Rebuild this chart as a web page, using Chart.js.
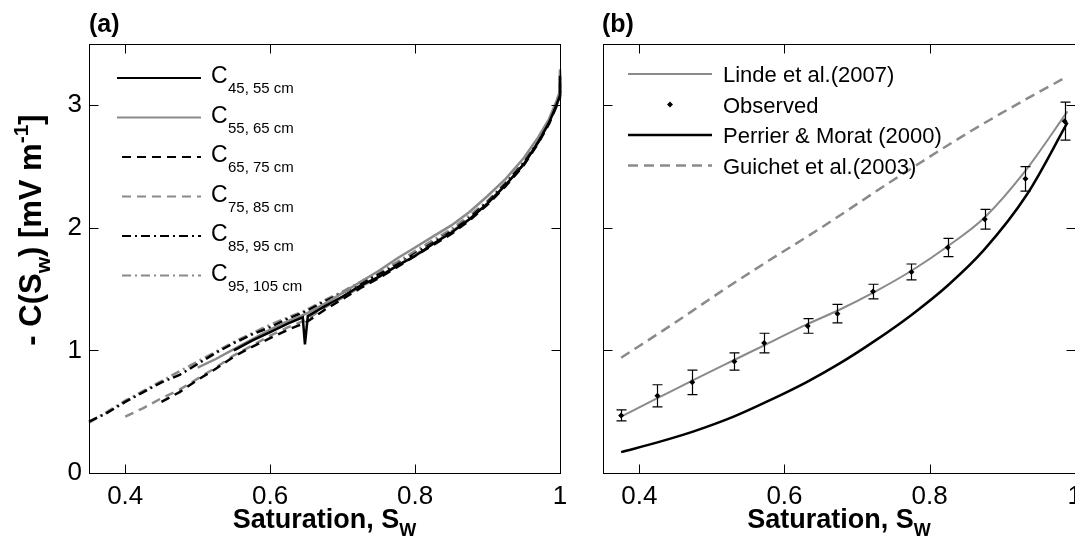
<!DOCTYPE html>
<html>
<head>
<meta charset="utf-8">
<script src="https://cdn.jsdelivr.net/npm/chart.js@4.4.1/dist/chart.umd.min.js"></script>
<style>
  html, body { margin: 0; padding: 0; background: #fff; overflow: hidden; width: 1075px; height: 553px; }
  #wrapA { position: absolute; left: 0; top: 0; }
  #wrapB { position: absolute; left: 590px; top: 0; }
</style>
</head>
<body>
<div id="wrapA"><canvas id="chartA" width="580" height="553"></canvas></div>
<div id="wrapB"><canvas id="chartB" width="500" height="553"></canvas></div>
<script>
// ---- panel (a): measured C(Sw) for each depth pair ----
const satA = [0.35, 0.375, 0.40, 0.425, 0.45, 0.475, 0.50, 0.525, 0.55, 0.575, 0.60, 0.625, 0.65, 0.675, 0.70,
  0.725, 0.75, 0.775, 0.80, 0.825, 0.85, 0.875, 0.90, 0.925, 0.95, 0.97, 0.985, 0.995, 1.0, 1.0];
const c55 = [null, null, null, null, null, null, 0.86, 0.93, 1.01, 1.09, 1.17, 1.24, 1.30, 1.38, 1.47,
  1.56, 1.65, 1.75, 1.84, 1.93, 2.02, 2.13, 2.26, 2.40, 2.57, 2.74, 2.89, 3.03, 3.12, 3.28];
const c65 = [null, null, null, null, 0.58, 0.66, 0.76, 0.85, 0.95, 1.03, 1.10, 1.17, 1.23, 1.33, 1.42,
  1.51, 1.59, 1.68, 1.77, 1.86, 1.95, 2.06, 2.19, 2.34, 2.51, 2.69, 2.85, 2.99, 3.06, 3.20];
const c75 = [null, null, 0.46, 0.53, 0.61, 0.68, 0.77, 0.86, 0.96, 1.04, 1.12, 1.19, 1.25, 1.35, 1.43,
  1.52, 1.60, 1.69, 1.78, 1.87, 1.97, 2.07, 2.20, 2.35, 2.52, 2.70, 2.86, 3.01, 3.10, 3.30];
const c85 = [0.42, 0.49, 0.58, 0.66, 0.74, 0.80, 0.89, 0.98, 1.06, 1.13, 1.19, 1.26, 1.32, 1.40, 1.47,
  1.55, 1.62, 1.70, 1.79, 1.88, 1.97, 2.08, 2.21, 2.36, 2.53, 2.70, 2.86, 3.00, 3.08, 3.22];
const c95 = [0.41, 0.50, 0.59, 0.67, 0.75, 0.83, 0.91, 0.99, 1.07, 1.14, 1.21, 1.27, 1.33, 1.41, 1.48,
  1.56, 1.64, 1.72, 1.81, 1.90, 1.99, 2.10, 2.22, 2.37, 2.54, 2.71, 2.87, 3.02, 3.12, 3.26];
// the 45-55 cm record has its own sampling (spike near Sw = 0.65)
const sat45 = [0.55, 0.575, 0.60, 0.625, 0.645, 0.648, 0.652, 0.675, 0.70, 0.725, 0.75, 0.775, 0.80, 0.825,
  0.85, 0.875, 0.90, 0.925, 0.95, 0.97, 0.985, 0.995, 1.0, 1.0];
const c45 = [1.00, 1.08, 1.15, 1.22, 1.27, 1.05, 1.28, 1.36, 1.44, 1.53, 1.60, 1.69, 1.77, 1.87,
  1.96, 2.07, 2.20, 2.35, 2.52, 2.70, 2.86, 3.00, 3.08, 3.24];
const depthLabels = ["45, 55 cm", "55, 65 cm", "65, 75 cm", "75, 85 cm", "85, 95 cm", "95, 105 cm"];

// ---- panel (b): observed vs models ----
const obsS = [0.375, 0.425, 0.473, 0.531, 0.572, 0.632, 0.673, 0.722, 0.775, 0.825, 0.876, 0.932, 0.986];
const obsC = [0.47, 0.63, 0.74, 0.91, 1.06, 1.20, 1.30, 1.48, 1.64, 1.84, 2.07, 2.40, 2.87];
const obsErr = [0.045, 0.09, 0.10, 0.07, 0.08, 0.06, 0.075, 0.06, 0.065, 0.075, 0.08, 0.10, 0.155];
const lindeS = [0.375, 0.425, 0.475, 0.53, 0.575, 0.63, 0.675, 0.725, 0.775, 0.825, 0.875, 0.93, 0.99];
const lindeC = [0.46, 0.61, 0.76, 0.92, 1.05, 1.21, 1.33, 1.48, 1.65, 1.85, 2.08, 2.45, 2.95];
const perrS = [0.375, 0.425, 0.475, 0.53, 0.575, 0.63, 0.675, 0.725, 0.775, 0.825, 0.875, 0.935, 0.99];
const perrC = [0.17, 0.25, 0.34, 0.46, 0.58, 0.74, 0.89, 1.08, 1.29, 1.53, 1.82, 2.28, 2.86];
const guiS = [0.375, 0.45, 0.515, 0.575, 0.645, 0.75, 0.857, 0.93, 0.985];
const guiC = [0.94, 1.23, 1.49, 1.72, 1.98, 2.39, 2.79, 3.04, 3.22];
const modelLabels = ["Linde et al.(2007)", "Observed", "Perrier & Morat (2000)", "Guichet et al.(2003)"];

const xTicks = [0.4, 0.6, 0.8, 1];
const yTicks = [0, 1, 2, 3];

const FONT = '"Liberation Sans", Arial, Helvetica, sans-serif';
const GRAY = "#8a8a8a";
const DASH = [9, 6];
const DASHDOT = [9, 4, 2, 4];

const pts = (xs, ys) => xs.map((x, i) => ({ x: x, y: ys[i] })).filter(p => p.y !== null);

// text with sub/superscripts: parts = [text, size, bold, dy]
function richText(ctx, parts, x, y, center) {
  let w = 0;
  parts.forEach(p => {
    ctx.font = (p[2] ? "bold " : "") + p[1] + "px " + FONT;
    w += ctx.measureText(p[0]).width;
  });
  let cx = center ? x - w / 2 : x;
  parts.forEach(p => {
    ctx.font = (p[2] ? "bold " : "") + p[1] + "px " + FONT;
    ctx.fillText(p[0], cx, y + p[3]);
    cx += ctx.measureText(p[0]).width;
  });
}

// box round the axes with inward ticks on all four sides
const frameTicks = {
  id: "frameTicks",
  afterDraw(chart) {
    const { ctx, chartArea: a, scales } = chart;
    const L = Math.round(a.left) + 0.5, R = Math.round(a.right) + 0.5;
    const T = Math.round(a.top) + 0.5, B = Math.round(a.bottom) + 0.5;
    ctx.save();
    ctx.strokeStyle = "#000";
    ctx.lineWidth = 1;
    ctx.strokeRect(L, T, R - L, B - T);
    ctx.beginPath();
    xTicks.forEach(v => {
      const px = Math.round(scales.x.getPixelForValue(v)) + 0.5;
      ctx.moveTo(px, B); ctx.lineTo(px, B - 9);
      ctx.moveTo(px, T); ctx.lineTo(px, T + 9);
    });
    yTicks.forEach(v => {
      const py = Math.round(scales.y.getPixelForValue(v)) + 0.5;
      ctx.moveTo(L, py); ctx.lineTo(L + 9, py);
      ctx.moveTo(R, py); ctx.lineTo(R - 9, py);
    });
    ctx.stroke();
    ctx.restore();
  }
};

function xTitle(chart) {
  const { ctx, chartArea: a } = chart;
  ctx.save();
  ctx.fillStyle = "#000";
  ctx.textBaseline = "alphabetic";
  richText(ctx, [["Saturation, S", 27, true, 0], ["W", 18, true, 8]], (a.left + a.right) / 2, 528, true);
  ctx.restore();
}

function axisOptions(showY) {
  return {
    x: {
      type: "linear", min: 0.35, max: 1,
      grid: { display: false, drawTicks: false },
      border: { display: false },
      afterBuildTicks: s => { s.ticks = xTicks.map(v => ({ value: v })); },
      afterFit: s => { s.height = 80; },
      ticks: { padding: 8, color: "#000", font: { family: FONT, size: 26 }, maxRotation: 0,
        callback: v => String(v) }
    },
    y: {
      type: "linear", min: 0, max: 3.5,
      grid: { display: false, drawTicks: false },
      border: { display: false },
      afterBuildTicks: s => { s.ticks = yTicks.map(v => ({ value: v })); },
      afterFit: s => { s.width = showY ? 89 : 13; },
      ticks: { display: showY, padding: 7, color: "#000", font: { family: FONT, size: 26 } }
    }
  };
}

// ---------- chart (a) ----------
const seriesA = [
  { data: pts(sat45, c45), color: "#000", dash: [] },
  { data: pts(satA, c55), color: GRAY, dash: [] },
  { data: pts(satA, c65), color: "#000", dash: DASH },
  { data: pts(satA, c75), color: GRAY, dash: DASH },
  { data: pts(satA, c85), color: "#000", dash: DASHDOT },
  { data: pts(satA, c95), color: GRAY, dash: DASHDOT }
];

const decorA = {
  id: "decorA",
  afterDraw(chart) {
    const ctx = chart.ctx;
    ctx.save();
    ctx.fillStyle = "#000";
    ctx.font = "bold 25px " + FONT;
    ctx.fillText("(a)", 89, 32);
    // legend
    seriesA.forEach((s, i) => {
      const y = 78 + i * 39.5;
      ctx.beginPath();
      ctx.strokeStyle = s.color;
      ctx.lineWidth = 2;
      ctx.setLineDash(s.dash);
      ctx.moveTo(s.dash.length ? 122 : 117, y);
      ctx.lineTo(201, y);
      ctx.stroke();
      ctx.setLineDash([]);
      ctx.fillStyle = "#000";
      ctx.font = "23px " + FONT;
      ctx.fillText("C", 211, y + 5);
      ctx.font = "15px " + FONT;
      ctx.fillText(depthLabels[i], 228, y + 15);
    });
    xTitle(chart);
    // y title, rotated
    ctx.translate(41, 230);
    ctx.rotate(-Math.PI / 2);
    richText(ctx, [["- C(S", 31, true, 0], ["w", 21, true, 9], [") [mV m", 31, true, 0],
      ["-1", 21, true, -13], ["]", 31, true, 0]], 0, 0, true);
    ctx.restore();
  }
};

new Chart(document.getElementById("chartA"), {
  type: "line",
  data: {
    datasets: seriesA.map((s, i) => ({
      label: depthLabels[i],
      data: s.data,
      borderColor: s.color,
      borderWidth: 2.5,
      borderDash: s.dash,
      pointRadius: 0,
      tension: 0,
      clip: 4
    }))
  },
  options: {
    responsive: false,
    animation: false,
    layout: { padding: { left: 0, right: 20, top: 44, bottom: 0 } },
    plugins: { legend: { display: false }, tooltip: { enabled: false } },
    scales: axisOptions(true)
  },
  plugins: [frameTicks, decorA]
});

// ---------- chart (b) ----------
const errorBars = {
  id: "errorBars",
  afterDatasetsDraw(chart) {
    const { ctx, scales: { x, y } } = chart;
    ctx.save();
    ctx.strokeStyle = "#000";
    ctx.lineWidth = 1.2;
    ctx.beginPath();
    obsS.forEach((s, i) => {
      const px = Math.round(x.getPixelForValue(s)) + 0.5;
      const y1 = y.getPixelForValue(obsC[i] + obsErr[i]);
      const y2 = y.getPixelForValue(obsC[i] - obsErr[i]);
      ctx.moveTo(px, y1); ctx.lineTo(px, y2);
      ctx.moveTo(px - 5, y1); ctx.lineTo(px + 5, y1);
      ctx.moveTo(px - 5, y2); ctx.lineTo(px + 5, y2);
    });
    ctx.stroke();
    ctx.restore();
  }
};

const legendB = [
  { color: GRAY, dash: [], width: 2, marker: false },
  { color: "#000", dash: [], width: 0, marker: true },
  { color: "#000", dash: [], width: 2.5, marker: false },
  { color: GRAY, dash: [10, 6], width: 2.5, marker: false }
];

const decorB = {
  id: "decorB",
  afterDraw(chart) {
    const ctx = chart.ctx;
    const ox = 590; // canvas offset on the page
    ctx.save();
    ctx.fillStyle = "#000";
    ctx.font = "bold 25px " + FONT;
    ctx.fillText("(b)", 602 - ox, 32);
    legendB.forEach((s, i) => {
      const y = 74 + i * 30.5;
      if (s.marker) {
        ctx.beginPath();
        ctx.moveTo(670 - ox, y - 3); ctx.lineTo(673 - ox, y); ctx.lineTo(670 - ox, y + 3); ctx.lineTo(667 - ox, y);
        ctx.closePath();
        ctx.fill();
      } else {
        ctx.beginPath();
        ctx.strokeStyle = s.color;
        ctx.lineWidth = s.width;
        ctx.setLineDash(s.dash);
        ctx.moveTo(628 - ox, y);
        ctx.lineTo(712 - ox, y);
        ctx.stroke();
        ctx.setLineDash([]);
      }
      ctx.font = "22px " + FONT;
      ctx.fillText(modelLabels[i], 723 - ox, y + 8);
    });
    xTitle(chart);
    ctx.restore();
  }
};

new Chart(document.getElementById("chartB"), {
  type: "line",
  data: {
    datasets: [
      { label: modelLabels[0], data: pts(lindeS, lindeC), borderColor: GRAY, borderWidth: 2,
        pointRadius: 0, cubicInterpolationMode: "monotone", order: 2 },
      { label: modelLabels[1], data: pts(obsS, obsC), showLine: false, pointStyle: "rectRot",
        pointRadius: 3, backgroundColor: "#000", borderColor: "#000", borderWidth: 0, order: 0 },
      { label: modelLabels[2], data: pts(perrS, perrC), borderColor: "#000", borderWidth: 2.5,
        pointRadius: 0, cubicInterpolationMode: "monotone", order: 3 },
      { label: modelLabels[3], data: pts(guiS, guiC), borderColor: GRAY, borderWidth: 2.5,
        borderDash: [10, 6], pointRadius: 0, cubicInterpolationMode: "monotone", order: 4 }
    ]
  },
  options: {
    responsive: false,
    animation: false,
    layout: { padding: { left: 0, right: 14.5, top: 44, bottom: 0 } },
    plugins: { legend: { display: false }, tooltip: { enabled: false } },
    scales: axisOptions(false)
  },
  plugins: [frameTicks, errorBars, decorB]
});
</script>
</body>
</html>
